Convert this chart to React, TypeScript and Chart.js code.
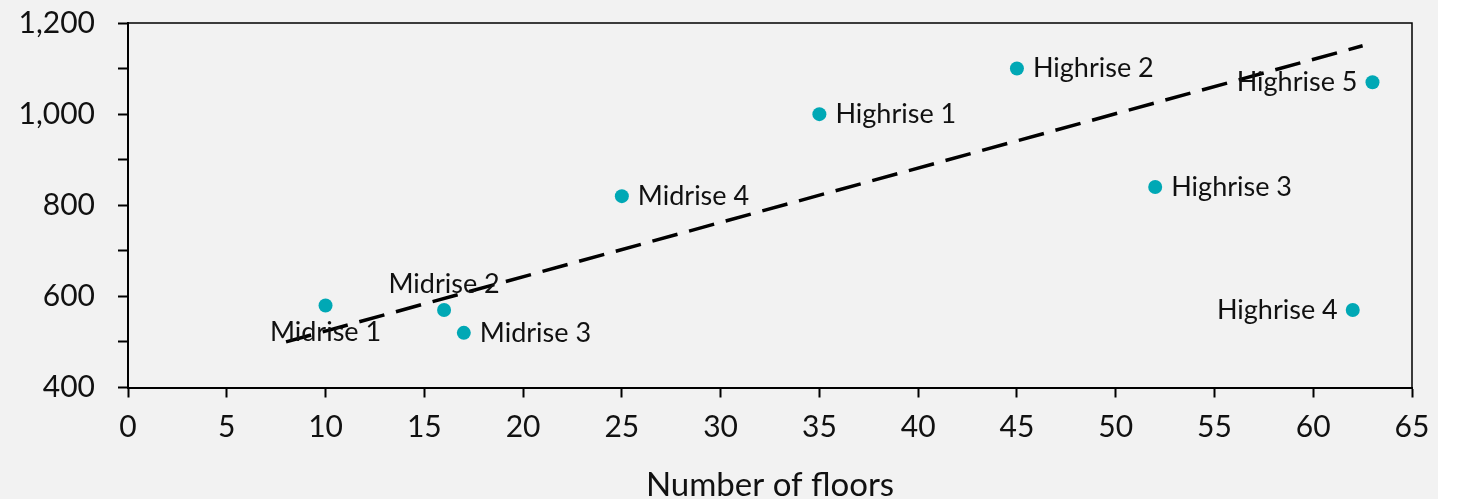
import React, { useEffect, useRef } from "react";
import { Chart, registerables } from "chart.js";

Chart.register(...registerables);

const buildingNames = [
  "Midrise 1", "Midrise 2", "Midrise 3", "Midrise 4",
  "Highrise 1", "Highrise 2", "Highrise 3", "Highrise 4", "Highrise 5",
];
const floors = [10, 16, 17, 25, 35, 45, 52, 62, 63];
const values = [580, 570, 520, 820, 1000, 1100, 840, 570, 1070];
const labelSides = ["below", "above", "right", "right", "right", "right", "right", "left", "left"];
const trendX = [8, 62.5];
const trendY = [500, 1150];
const xTicks = [0, 5, 10, 15, 20, 25, 30, 35, 40, 45, 50, 55, 60, 65];
const yTicks = [400, 600, 800, 1000, 1200];
const xTitle = "Number of floors";

const FONT = "Lato, 'DejaVu Sans', sans-serif";
const TEAL = "#00A8B5";

const W = 1438;
const H = 499;

const pointLabels = {
  id: "pointLabels",
  afterDatasetsDraw(chart: any) {
    const ctx = chart.ctx;
    const meta = chart.getDatasetMeta(1);
    ctx.save();
    ctx.font = `27px ${FONT}`;
    ctx.fillStyle = "#111";
    meta.data.forEach((el: any, i: number) => {
      const side = labelSides[i];
      const t = buildingNames[i];
      let x = el.x;
      let y = el.y;
      ctx.textBaseline = "middle";
      if (side === "right") { ctx.textAlign = "left"; x += 16; }
      else if (side === "left") { ctx.textAlign = "right"; x -= 15; }
      else if (side === "above") { ctx.textAlign = "center"; y -= 26; }
      else { ctx.textAlign = "center"; y += 27; }
      ctx.fillText(t, x, y);
    });
    ctx.restore();
  },
};

const frame = {
  id: "frame",
  beforeDatasetsDraw(chart: any) {
    const { ctx, chartArea: a } = chart;
    ctx.save();
    ctx.strokeStyle = "#000";
    ctx.lineWidth = 1.5;
    ctx.beginPath();
    ctx.moveTo(a.left, a.top);
    ctx.lineTo(a.right, a.top);
    ctx.lineTo(a.right, a.bottom);
    ctx.stroke();
    ctx.restore();
  },
};

export default function App() {
  const ref = useRef<HTMLCanvasElement>(null);
  useEffect(() => {
    if (!ref.current) return;
    const chart = new Chart(ref.current, {
      type: "scatter",
      data: {
        datasets: [
          {
            type: "line",
            data: trendX.map((x, i) => ({ x, y: trendY[i] })),
            borderColor: "#000",
            borderWidth: 3.5,
            borderDash: [26, 12],
            pointRadius: 0,
            fill: false,
          } as any,
          {
            data: floors.map((x, i) => ({ x, y: values[i] })),
            backgroundColor: TEAL,
            borderColor: TEAL,
            pointRadius: 7,
            borderWidth: 0,
          },
        ],
      },
      plugins: [frame, pointLabels],
      options: {
        responsive: false,
        animation: false,
        layout: { padding: { top: 23, right: 26, left: 0, bottom: 0 } },
        plugins: { legend: { display: false }, tooltip: { enabled: false } },
        scales: {
          x: {
            type: "linear",
            min: 0,
            max: 65,
            afterFit: (s: any) => {
              s.height = H - 387.5;
              s.paddingLeft = 0;
              s.paddingRight = 0;
            },
            afterBuildTicks: (s: any) => { s.ticks = xTicks.map((v) => ({ value: v })); },
            border: { display: true, color: "#000", width: 2 },
            grid: { drawOnChartArea: false, tickLength: 10, color: "#000", tickWidth: 2 },
            ticks: {
              padding: 12,
              color: "#111",
              font: { family: FONT, size: 30 },
              maxRotation: 0,
              autoSkip: false,
            },
            title: {
              display: true,
              text: xTitle,
              color: "#111",
              font: { family: FONT, size: 33, lineHeight: 0.85 },
              padding: { top: 0, bottom: 0 },
            },
          },
          y: {
            type: "linear",
            min: 400,
            max: 1200,
            afterFit: (s: any) => {
              s.width = 128;
              s.paddingTop = 0;
              s.paddingBottom = 0;
            },
            border: { display: true, color: "#000", width: 2 },
            grid: { drawOnChartArea: false, tickLength: 10, color: "#000", tickWidth: 2 },
            ticks: {
              stepSize: 100,
              padding: 23,
              color: "#111",
              font: { family: FONT, size: 30 },
              callback: (v: any) => (yTicks.includes(Number(v)) ? Number(v).toLocaleString("en-US") : ""),
            },
          },
        },
      },
    });
    return () => chart.destroy();
  }, []);
  return (
    <div style={{ position: "absolute", left: 0, top: 0, width: W, height: H, background: "#f2f2f2" }}>
      <canvas ref={ref} width={W} height={H} style={{ width: W, height: H, display: "block" }} />
    </div>
  );
}
